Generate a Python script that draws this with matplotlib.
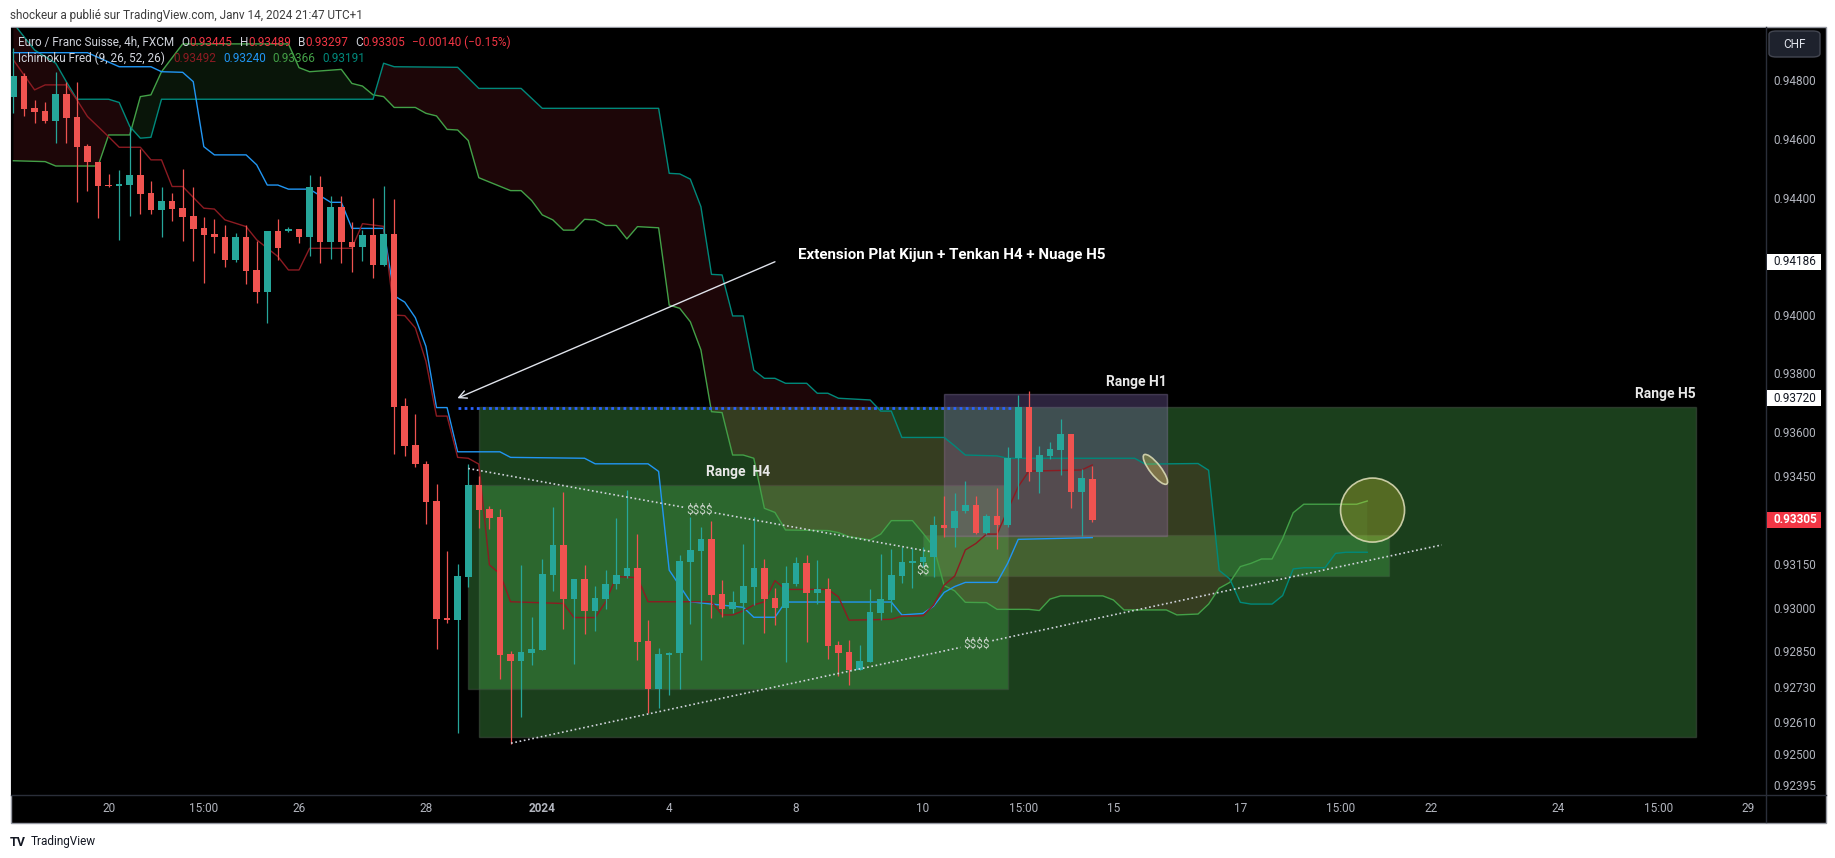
import matplotlib

matplotlib.use("Agg")
import matplotlib.pyplot as plt
import matplotlib.transforms as mtransforms
from matplotlib.lines import Line2D
from matplotlib.patches import Rectangle, Ellipse, Circle, FancyBboxPatch
import numpy as np

plt.rcParams["font.family"] = ["Roboto", "DejaVu Sans"]
plt.rcParams["text.parse_math"] = False  # "$$$$" labels are plain text

# ==========================================
# Data (EUR/CHF 4h, FXCM)
# bar 0 = first visible candle
# ==========================================

OPEN = [
    0.94750, 0.94821, 0.94710, 0.94701, 0.94665, 0.94759, 0.94679, 0.94582, 0.94526, 0.94449,
    0.94446, 0.94448, 0.94483, 0.94421, 0.94363, 0.94394, 0.94369, 0.94343, 0.94300, 0.94281,
    0.94270, 0.94192, 0.94270, 0.94158, 0.94084, 0.94291, 0.94292, 0.94298, 0.94269, 0.94443,
    0.94253, 0.94374, 0.94255, 0.94238, 0.94278, 0.94175, 0.94281, 0.93692, 0.93561, 0.93497,
    0.93368, 0.92969, 0.92962, 0.93111, 0.93423, 0.93343, 0.93315, 0.92848, 0.92823, 0.92851,
    0.92861, 0.93116, 0.93218, 0.93034, 0.93101, 0.92993, 0.93035, 0.93085, 0.93113, 0.93139,
    0.92891, 0.92728, 0.92843, 0.92849, 0.93162, 0.93199, 0.93239, 0.93051, 0.93001, 0.93022,
    0.93076, 0.93140, 0.93038, 0.93005, 0.93086, 0.93157, 0.93056, 0.93068, 0.92877, 0.92853,
    0.92792, 0.92820, 0.92988, 0.93031, 0.93114, 0.93158, 0.93162, 0.93177, 0.93287, 0.93278,
    0.93335, 0.93355, 0.93259, 0.93318, 0.93287, 0.93516, 0.93690, 0.93469, 0.93523, 0.93543,
    0.93598, 0.93401, 0.93445,
]
HIGH = [
    0.94915, 0.94830, 0.94739, 0.94730, 0.94835, 0.94801, 0.94801, 0.94587, 0.94526, 0.94485,
    0.94500, 0.94647, 0.94570, 0.94462, 0.94440, 0.94420, 0.94502, 0.94443, 0.94338, 0.94332,
    0.94312, 0.94283, 0.94312, 0.94258, 0.94291, 0.94331, 0.94306, 0.94298, 0.94483, 0.94480,
    0.94412, 0.94412, 0.94321, 0.94295, 0.94405, 0.94446, 0.94400, 0.93720, 0.93665, 0.93505,
    0.93427, 0.93198, 0.93154, 0.93495, 0.93455, 0.93351, 0.93343, 0.92858, 0.93151, 0.92974,
    0.93170, 0.93350, 0.93400, 0.93101, 0.93149, 0.93078, 0.93135, 0.93312, 0.93407, 0.93255,
    0.92962, 0.92866, 0.92854, 0.93184, 0.93316, 0.93281, 0.93301, 0.93099, 0.93062, 0.93222,
    0.93315, 0.93171, 0.93071, 0.93147, 0.93179, 0.93185, 0.93167, 0.93105, 0.92891, 0.92894,
    0.92877, 0.93067, 0.93188, 0.93205, 0.93213, 0.93207, 0.93213, 0.93318, 0.93386, 0.93397,
    0.93437, 0.93386, 0.93325, 0.93412, 0.93552, 0.93731, 0.93744, 0.93557, 0.93572, 0.93648,
    0.93598, 0.93478, 0.93489,
]
LOW = [
    0.94693, 0.94685, 0.94659, 0.94661, 0.94591, 0.94593, 0.94391, 0.94429, 0.94337, 0.94443,
    0.94261, 0.94343, 0.94349, 0.94349, 0.94272, 0.94326, 0.94258, 0.94187, 0.94113, 0.94217,
    0.94167, 0.94184, 0.94110, 0.94044, 0.93976, 0.94192, 0.94287, 0.94249, 0.94204, 0.94181,
    0.94196, 0.94181, 0.94150, 0.94190, 0.94130, 0.94170, 0.93528, 0.93524, 0.93486, 0.93290,
    0.92864, 0.92953, 0.92576, 0.93075, 0.93278, 0.93274, 0.92760, 0.92538, 0.92631, 0.92810,
    0.92861, 0.93060, 0.92933, 0.92814, 0.92915, 0.92926, 0.93000, 0.93069, 0.93107, 0.92826,
    0.92646, 0.92661, 0.92706, 0.92726, 0.92948, 0.92825, 0.92968, 0.92974, 0.92985, 0.92879,
    0.93014, 0.92917, 0.92945, 0.92820, 0.93079, 0.92889, 0.93016, 0.92829, 0.92772, 0.92741,
    0.92792, 0.92820, 0.92963, 0.92991, 0.93088, 0.93071, 0.93145, 0.93110, 0.93245, 0.93211,
    0.93329, 0.93255, 0.93256, 0.93204, 0.93281, 0.93375, 0.93438, 0.93395, 0.93511, 0.93458,
    0.93346, 0.93251, 0.93297,
]
CLOSE = [
    0.94821, 0.94708, 0.94699, 0.94665, 0.94759, 0.94678, 0.94579, 0.94525, 0.94446, 0.94445,
    0.94452, 0.94483, 0.94418, 0.94363, 0.94394, 0.94366, 0.94340, 0.94298, 0.94278, 0.94269,
    0.94192, 0.94270, 0.94156, 0.94084, 0.94291, 0.94234, 0.94298, 0.94269, 0.94443, 0.94255,
    0.94374, 0.94252, 0.94238, 0.94278, 0.94175, 0.94281, 0.93691, 0.93558, 0.93496, 0.93366,
    0.92966, 0.92962, 0.93112, 0.93423, 0.93338, 0.93312, 0.92844, 0.92823, 0.92852, 0.92863,
    0.93120, 0.93218, 0.93034, 0.93101, 0.92993, 0.93038, 0.93086, 0.93116, 0.93139, 0.92888,
    0.92728, 0.92846, 0.92849, 0.93164, 0.93202, 0.93239, 0.93048, 0.93001, 0.93024, 0.93079,
    0.93140, 0.93034, 0.93005, 0.93089, 0.93157, 0.93056, 0.93067, 0.92875, 0.92851, 0.92792,
    0.92822, 0.92990, 0.93034, 0.93116, 0.93161, 0.93164, 0.93177, 0.93287, 0.93278, 0.93335,
    0.93355, 0.93259, 0.93318, 0.93287, 0.93516, 0.93690, 0.93469, 0.93526, 0.93547, 0.93598,
    0.93401, 0.93448, 0.93305,
]

# Ichimoku "Fred" (9, 26, 52, 26) - vertices (bar, price) as plotted
TENKAN = [
    (0, 0.94875), (2, 0.94773), (3, 0.94790), (5, 0.94790), (6, 0.94739), (7, 0.94682),
    (9, 0.94613), (10, 0.94577), (12, 0.94577), (13, 0.94534), (14, 0.94534), (15, 0.94443),
    (16, 0.94443), (18, 0.94369), (19, 0.94366), (20, 0.94329), (22, 0.94306), (23, 0.94261),
    (25, 0.94204), (26, 0.94158), (27, 0.94158), (28, 0.94232), (32, 0.94232), (33, 0.94316),
    (35, 0.94307), (36, 0.94004), (37, 0.94002), (38, 0.93960), (39, 0.93846), (40, 0.93659),
    (41, 0.93659), (42, 0.93518), (43, 0.93515), (44, 0.93495), (45, 0.93151), (46, 0.93120),
    (47, 0.93025), (52, 0.93019), (53, 0.92971), (55, 0.92971), (56, 0.93025), (57, 0.93111),
    (59, 0.93107), (60, 0.93025), (66, 0.93025), (67, 0.92980), (68, 0.92980), (69, 0.92994),
    (70, 0.93014), (71, 0.93025), (72, 0.93097), (73, 0.93067), (77, 0.93067), (78, 0.93042),
    (79, 0.92962), (83, 0.92965), (84, 0.92976), (86, 0.92977), (87, 0.93014), (88, 0.93082),
    (89, 0.93113), (90, 0.93202), (91, 0.93224), (92, 0.93256), (93, 0.93256), (94, 0.93338),
    (95, 0.93418), (96, 0.93471), (101, 0.93475), (102, 0.93492),
]
KIJUN = [
    (0, 0.94900), (7, 0.94900), (10, 0.94852), (13, 0.94852), (14, 0.94835), (16, 0.94833),
    (17, 0.94801), (18, 0.94579), (19, 0.94551), (22, 0.94551), (23, 0.94517), (24, 0.94448),
    (25, 0.94448), (26, 0.94434), (28, 0.94434), (30, 0.94389), (31, 0.94389), (32, 0.94300),
    (35, 0.94300), (36, 0.94070), (37, 0.94048), (38, 0.93995), (39, 0.93897), (40, 0.93688),
    (41, 0.93688), (42, 0.93537), (46, 0.93537), (47, 0.93518), (54, 0.93515), (55, 0.93496),
    (60, 0.93496), (61, 0.93470), (62, 0.93133), (64, 0.93025), (66, 0.93017), (69, 0.93006),
    (70, 0.92972), (72, 0.92972), (73, 0.93024), (83, 0.93024), (84, 0.92980), (86, 0.92985),
    (87, 0.93010), (88, 0.93057), (89, 0.93077), (90, 0.93091), (93, 0.93091), (94, 0.93156),
    (95, 0.93238), (102, 0.93244),
]
SPAN_A = [
    (0, 0.94531), (3, 0.94528), (4, 0.94513), (8, 0.94513), (9, 0.94619), (11, 0.94619),
    (12, 0.94750), (13, 0.94756), (14, 0.94835), (16, 0.94930), (26, 0.94930), (27, 0.94849),
    (28, 0.94835), (31, 0.94843), (32, 0.94795), (33, 0.94786), (34, 0.94756), (35, 0.94750),
    (36, 0.94713), (38, 0.94713), (39, 0.94693), (40, 0.94684), (41, 0.94638), (42, 0.94636),
    (43, 0.94600), (44, 0.94473), (47, 0.94429), (48, 0.94429), (49, 0.94395), (50, 0.94346),
    (51, 0.94329), (52, 0.94294), (53, 0.94294), (54, 0.94331), (55, 0.94329), (56, 0.94310),
    (57, 0.94310), (58, 0.94264), (59, 0.94306), (61, 0.94302), (62, 0.94038), (63, 0.94027),
    (64, 0.93981), (65, 0.93885), (66, 0.93674), (67, 0.93671), (68, 0.93526), (69, 0.93526),
    (70, 0.93515), (71, 0.93344), (72, 0.93330), (73, 0.93270), (77, 0.93268), (78, 0.93261),
    (79, 0.93247), (81, 0.93236), (82, 0.93256), (83, 0.93302), (85, 0.93302), (86, 0.93259),
    (87, 0.93213), (88, 0.93080), (89, 0.93062), (90, 0.93023), (92, 0.93022), (93, 0.92999),
    (96, 0.92999), (97, 0.92995), (98, 0.93034), (99, 0.93045), (103, 0.93045), (104, 0.93031),
    (105, 0.92997), (109, 0.92997), (110, 0.92980), (112, 0.92983), (113, 0.93017), (114, 0.93071),
    (115, 0.93091), (116, 0.93145), (117, 0.93156), (118, 0.93171), (119, 0.93171), (120, 0.93241),
    (121, 0.93329), (122, 0.93358), (127, 0.93358), (128, 0.93369),
]
SPAN_B = [
    (0, 0.95000), (2, 0.94909), (4, 0.94864), (5, 0.94801), (6, 0.94741), (9, 0.94741),
    (10, 0.94730), (11, 0.94648), (12, 0.94608), (13, 0.94611), (14, 0.94741), (34, 0.94741),
    (35, 0.94864), (36, 0.94852), (42, 0.94850), (44, 0.94778), (48, 0.94778), (50, 0.94710),
    (61, 0.94710), (62, 0.94488), (63, 0.94486), (64, 0.94468), (65, 0.94374), (66, 0.94143),
    (67, 0.94141), (68, 0.94001), (69, 0.94001), (70, 0.93816), (71, 0.93788), (72, 0.93788),
    (73, 0.93771), (75, 0.93771), (76, 0.93737), (77, 0.93737), (78, 0.93720), (81, 0.93714),
    (82, 0.93676), (83, 0.93676), (84, 0.93586), (88, 0.93586), (89, 0.93557), (90, 0.93526),
    (93, 0.93523), (94, 0.93515), (106, 0.93515), (107, 0.93495), (112, 0.93497), (113, 0.93474),
    (114, 0.93132), (115, 0.93103), (116, 0.93023), (117, 0.93017), (119, 0.93017), (120, 0.93046),
    (121, 0.93137), (122, 0.93141), (124, 0.93141), (125, 0.93190), (126, 0.93194), (128, 0.93194),
]

# drawings: (left bar, right bar, low, high)
RANGE_H5 = (44.05, 159.07, 0.92562, 0.93690)
RANGE_H4 = (43.0, 94.07, 0.92726, 0.93425)
RANGE_H1 = (88.0, 109.05, 0.93250, 0.93734)
RANGE_SS = (86.0, 130.07, 0.93114, 0.93253)
KIJUN_EXT = (42.0, 94.4, 0.93688)
TREND_UP = (43.0, 0.93480, 86.7, 0.93196)
TREND_LOW = (47.05, 0.92542, 135.05, 0.93219)
ARROW = (72.0, 0.94186, 41.97, 0.93720)

PRICE_TICKS = [0.94800, 0.94600, 0.94400, 0.94000, 0.93800, 0.93600, 0.93450,
               0.93150, 0.93000, 0.92850, 0.92730, 0.92610, 0.92500, 0.92395]
TIME_TICKS = [9, 18, 27, 39, 50, 62, 74, 86, 95.5, 104, 116, 125.5, 134, 146, 155.5, 164]
TIME_LABELS = ["20", "15:00", "26", "28", "2024", "4", "8", "10", "15:00", "15",
               "17", "15:00", "22", "24", "15:00", "29"]

UP = "#26a69a"
DOWN = "#ef5350"
C_TENKAN = "#8c1b22"
C_KIJUN = "#2196f3"
C_A = "#43a047"
C_B = "#00897b"
GREY = "#d1d4dc"
AXIS_TXT = "#b2b5be"
RED_TXT = "#f23645"
BOX_GREEN = (76 / 255, 175 / 255, 80 / 255, 0.36)

# ==========================================
# Figure layout (pixel based, 1835 x 858)
# ==========================================
W, H = 1835, 858
fig = plt.figure(figsize=(W / 100, H / 100), dpi=100, facecolor="white")


def fx(px):
    return px / W


def fy(py):
    return 1 - py / H


fig.add_artist(Rectangle((fx(10.5), fy(822.5)), fx(1826) - fx(10.5), fy(27) - fy(822.5),
                         transform=fig.transFigure, fc="black", ec="#9598a1", lw=1, zorder=-5))

ax = fig.add_axes([fx(11), fy(795), fx(1766) - fx(11), fy(27.5) - fy(795)])
ax.set_facecolor("black")
ax.set_xlim(-0.23, 165.7)
ax.set_ylim(0.92365, 0.94986)
ax.set_xticks([])
ax.set_yticks([])
for s in ax.spines.values():
    s.set_visible(False)

fig.add_artist(Line2D([fx(1766), fx(1766)], [fy(27), fy(822)], transform=fig.transFigure,
                      color="#2a2e39", lw=1))
fig.add_artist(Line2D([fx(11), fx(1826)], [fy(795), fy(795)], transform=fig.transFigure,
                      color="#2a2e39", lw=1))


# ---- range boxes ----
def range_box(r, fc, ec, z):
    x0, x1, lo, hi = r
    ax.add_patch(Rectangle((x0, lo), x1 - x0, hi - lo, fc=fc, ec=ec, lw=1, zorder=z))


range_box(RANGE_H5, BOX_GREEN, (0.25, 0.3, 0.25, 0.6), 1.0)
range_box(RANGE_H4, BOX_GREEN, (0.25, 0.3, 0.25, 0.5), 1.1)
range_box(RANGE_SS, BOX_GREEN, (0.3, 0.4, 0.3, 0.3), 1.2)
range_box(RANGE_H1, (149 / 255, 117 / 255, 205 / 255, 0.3), (0.5, 0.45, 0.6, 0.4), 1.3)

# ---- cloud ----
ax_x, ax_y = zip(*SPAN_A)
bx_x, bx_y = zip(*SPAN_B)
grid = np.linspace(0, max(ax_x), 5000)
a = np.interp(grid, ax_x, ax_y)
b = np.interp(grid, bx_x, bx_y)
ax.fill_between(grid, a, b, where=a >= b, interpolate=True, color="#4caf50", alpha=0.12, lw=0, zorder=2)
ax.fill_between(grid, a, b, where=a < b, interpolate=True, color="#f23645", alpha=0.12, lw=0, zorder=2)

for pts, col in [(SPAN_A, C_A), (SPAN_B, C_B), (KIJUN, C_KIJUN), (TENKAN, C_TENKAN)]:
    xs, ys = zip(*pts)
    ax.plot(xs, ys, color=col, lw=1.0, zorder=3)

# ---- candles ----
o, h, l, c = (np.array(v) for v in (OPEN, HIGH, LOW, CLOSE))
idx = np.arange(len(o))
cols = np.where(c >= o, UP, DOWN)
ax.vlines(idx, l, h, colors=cols, lw=0.9, zorder=4)
ax.bar(idx, np.maximum(np.abs(c - o), 0.000035), bottom=np.minimum(o, c), width=0.62,
       color=cols, lw=0, zorder=4.1)

# ---- drawings ----
x0, x1, yk = KIJUN_EXT
ax.plot([x0, x1], [yk, yk], color="#2962ff", lw=2.0, ls=(0, (1, 1.2)), zorder=5)

dot_kw = dict(color="#d1d4dc", lw=1.2, ls=(0, (1, 1.6)), zorder=5)


def trend(line, label, gap):
    x0, y0, x1, y1 = line
    xm, ym = (x0 + x1) / 2, (y0 + y1) / 2
    dx, dy = x1 - x0, y1 - y0
    ax.plot([x0, xm - gap * dx], [y0, ym - gap * dy], **dot_kw)
    ax.plot([xm + gap * dx, x1], [ym + gap * dy, y1], **dot_kw)
    ax.text(xm, ym, label, color="#c9d3c9", fontsize=8.5, ha="center", va="center", zorder=6)


trend(TREND_UP, "$$$$", 0.033)
trend(TREND_LOW, "$$$$", 0.017)
ax.text(86.0, 0.93133, "$$", color="#c9d3c9", fontsize=8.5, ha="center", va="center", zorder=6)

ax.annotate("", xy=(ARROW[2], ARROW[3]), xytext=(ARROW[0], ARROW[1]),
            arrowprops=dict(arrowstyle="->", color="#e0e3eb", lw=1.0, shrinkA=0, shrinkB=0,
                            mutation_scale=14), zorder=6)
ax.text(74.2, 0.94209, "Extension Plat Kijun + Tenkan H4 + Nuage H5", color="white",
        fontsize=10.9, fontweight="bold", va="center", ha="left", zorder=7)

lab_kw = dict(color="#e8e8e8", fontsize=10, fontweight="bold", textcoords="offset points",
              va="bottom", zorder=7)
ax.annotate("Range H5", xy=(RANGE_H5[1], RANGE_H5[3]), xytext=(0, 4), ha="right", **lab_kw)
ax.annotate("Range H1", xy=(RANGE_H1[1], RANGE_H1[3]), xytext=(0, 4), ha="right", **lab_kw)
ax.annotate("Range  H4", xy=((RANGE_H4[0] + RANGE_H4[1]) / 2, RANGE_H4[3]), xytext=(0, 4),
            ha="center", **lab_kw)

circ_tr = fig.dpi_scale_trans + mtransforms.ScaledTranslation(128.5, 0.93338, ax.transData)
ax.add_patch(Circle((0, 0), 0.32, transform=circ_tr, fc=(1, 0.92, 0.23, 0.25),
                    ec=(0.85, 0.85, 0.7, 0.9), lw=1.2, zorder=6))
ell_tr = fig.dpi_scale_trans + mtransforms.ScaledTranslation(107.97, 0.93477, ax.transData)
ax.add_patch(Ellipse((0, 0), 0.37, 0.11, angle=-52, transform=ell_tr, fc=(1, 0.92, 0.23, 0.25),
                     ec=(0.85, 0.85, 0.7, 0.9), lw=1.2, zorder=6))

# ---- price axis ----
y_blend = mtransforms.blended_transform_factory(fig.transFigure, ax.transData)
for p in PRICE_TICKS:
    fig.text(fx(1773), p, f"{p:.5f}", transform=y_blend, color=AXIS_TXT, fontsize=8.5,
             ha="left", va="center")

for p, fc, tc, wt in [(0.94186, "white", "#131722", "normal"),
                      (0.93720, "white", "#131722", "normal"),
                      (0.93305, RED_TXT, "white", "bold")]:
    fig.add_artist(Rectangle((fx(1767), p - 0.00028), fx(1821) - fx(1767), 0.00056,
                             transform=y_blend, fc=fc, ec="none", zorder=4))
    fig.text(fx(1773), p, f"{p:.5f}", transform=y_blend, color=tc, fontsize=8.5,
             fontweight=wt, ha="left", va="center", zorder=5)

fig.add_artist(FancyBboxPatch((fx(1769), fy(57)), fx(1820) - fx(1769), fy(31) - fy(57),
                              boxstyle="round,pad=0,rounding_size=0.004",
                              transform=fig.transFigure, fc="#1e222d", ec="#434651", lw=1))
fig.text(fx(1794.5), fy(44), "CHF", color="#e0e3eb", fontsize=8.5, ha="center", va="center")

# ---- time axis ----
x_blend = mtransforms.blended_transform_factory(ax.transData, fig.transFigure)
for t, s in zip(TIME_TICKS, TIME_LABELS):
    ax.text(t, fy(808.5), s, transform=x_blend, color=AXIS_TXT, fontsize=8.5,
            fontweight="bold" if s == "2024" else "normal", ha="center", va="center")

# ---- header / legend ----
fig.text(fx(10), fy(15), "shockeur a publié sur TradingView.com, Janv 14, 2024 21:47 UTC+1",
         color="#3d3d3d", fontsize=8.5, ha="left", va="center")


def chain(x, y, pieces):
    t = fig.text(fx(x), fy(y), pieces[0][0], color=pieces[0][1], fontsize=8.5,
                 ha="left", va="center", zorder=10)
    for s, col, gap in pieces[1:]:
        t = ax.annotate(s, xy=(1, 0.5), xycoords=t, xytext=(gap, 0), textcoords="offset points",
                        color=col, fontsize=8.5, ha="left", va="center", zorder=10)


chain(18, 42, [("Euro / Franc Suisse, 4h, FXCM", GREY),
               ("O", GREY, 5.5), ("0.93445", RED_TXT, 0), ("H", GREY, 5),
               ("0.93489", RED_TXT, 0), ("B", GREY, 5), ("0.93297", RED_TXT, 0),
               ("C", GREY, 5), ("0.93305", RED_TXT, 0), ("\u22120.00140 (\u22120.15%)", RED_TXT, 5)])
chain(18, 58, [("Ichimoku Fred (9, 26, 52, 26)", GREY),
               ("0.93492", C_TENKAN, 6), ("0.93240", C_KIJUN, 5),
               ("0.93366", C_A, 5), ("0.93191", C_B, 5)])

# ---- TradingView mark ----
fig.text(fx(10), fy(842), "TV", color="#131722", fontsize=9, fontweight="bold", ha="left",
         va="center")
fig.text(fx(31), fy(842), "TradingView", color="#131722", fontsize=8.5, ha="left", va="center")

fig.savefig("out.png", dpi=100, facecolor="white")
